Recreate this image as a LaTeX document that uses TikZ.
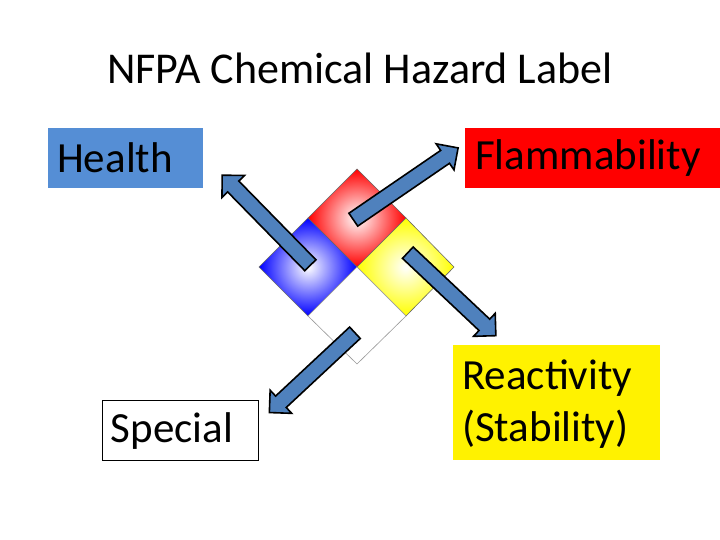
\documentclass[tikz,border=0pt]{standalone}
\usepackage{fontspec}
\setmainfont{Carlito}
\usetikzlibrary{shapes.arrows}
\definecolor{arrowblue}{HTML}{4F81BD}
\definecolor{healthblue}{HTML}{558ED5}
\tikzset{
  blockarrow/.style={single arrow, draw=black, line width=1.6pt, fill=arrowblue, inner xsep=0pt, inner ysep=7pt,
    text height=0pt, text depth=0pt, single arrow head extend=8pt, single arrow head indent=0pt, anchor=center},
  lab/.style={font=\fontsize{43}{52}\selectfont, inner sep=0pt},
  quad/.style={draw=black!60, line width=0.6pt}
}
\begin{document}
\begin{tikzpicture}[x=1pt,y=-1pt]
\useasboundingbox (0,0) rectangle (720,540);
\node[font=\fontsize{44}{50}\selectfont] (title) at (360,68) {NFPA Chemical Hazard Label};
% boxes
\fill[healthblue] (48,128) rectangle (203,188);
\node[lab, anchor=west] (health) at (57,158) {Health};
\fill[red] (465,128) rectangle (720,188);
\node[lab] (flam) at (588,158) {Flammability};
\draw[black, line width=0.6pt] (102,400) rectangle (258,460);
\node[lab] (special) at (172,431) {Special};
\fill[yellow] (453,345) rectangle (660,460);
\node[lab, anchor=west, align=left] (react) at (462,404) {Reactivity\\(Stability)};
% diamond
\shade[inner color=white, outer color=red] (357,169) -- (406,218) -- (357,267) -- (308,218) -- cycle;
\draw[quad] (357,169) -- (406,218) -- (357,267) -- (308,218) -- cycle;
\shade[inner color=white, outer color=blue] (308,218) -- (357,267) -- (308,316) -- (259,267) -- cycle;
\draw[quad] (308,218) -- (357,267) -- (308,316) -- (259,267) -- cycle;
\shade[inner color=white, outer color=yellow] (406,218) -- (454,267) -- (406,316) -- (357,267) -- cycle;
\draw[quad] (406,218) -- (454,267) -- (406,316) -- (357,267) -- cycle;
\fill[white] (357,267) -- (406,316) -- (357,364) -- (308,316) -- cycle;
\draw[quad, draw=black!40] (357,267) -- (406,316) -- (357,364) -- (308,316) -- cycle;
% arrows
\node[blockarrow, minimum height=126pt, rotate=134.4] (ah) at (269,223) {};
\node[blockarrow, minimum height=127pt, rotate=34.4] (af) at (402.5,186) {};
\node[blockarrow, minimum height=121pt, rotate=-43.3] (ar) at (449,291.5) {};
\node[blockarrow, minimum height=117pt, rotate=223] (as) at (315,370) {};
\end{tikzpicture}
\end{document}
